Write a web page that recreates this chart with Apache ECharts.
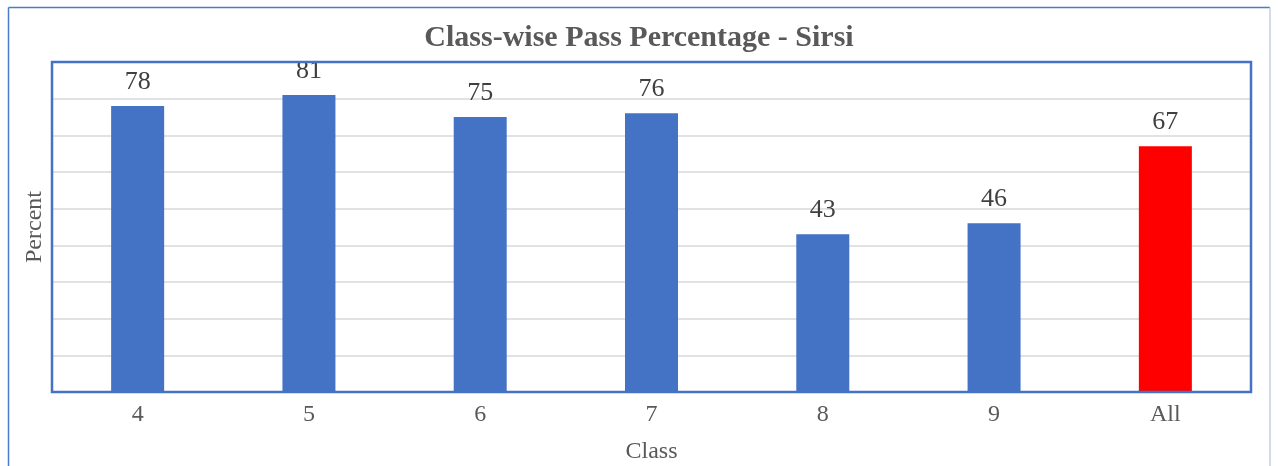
<!DOCTYPE html>
<html>
<head>
    <meta charset="utf-8">
    <title>Class-wise Pass Percentage</title>
    <script src="https://cdn.jsdelivr.net/npm/echarts@6/dist/echarts.min.js"></script>
    <style>
        html, body {
            margin: 0;
            padding: 0;
            background: #fff;
        }
        #main {
            width: 1278px;
            height: 466px;
        }
    </style>
</head>
<body>
<div id="main"></div>

<script type="text/javascript">
    var classes = ['4', '5', '6', '7', '8', '9', 'All'];
    var passPercent = [78, 81, 75, 76, 43, 46, 67];
    var barColors = ['#4472C4', '#4472C4', '#4472C4', '#4472C4', '#4472C4', '#4472C4', '#FF0000'];

    var serif = '"Liberation Serif", "Times New Roman", serif';

    var myChart = echarts.init(document.getElementById('main'));

    var option = {
        backgroundColor: '#ffffff',
        animation: false,
        title: {
            text: 'Class-wise Pass Percentage - Sirsi',
            left: 'center',
            top: 23,
            padding: 0,
            textStyle: {
                fontFamily: serif,
                fontSize: 30,
                fontWeight: 'bold',
                color: '#595959'
            }
        },
        graphic: [
            // outer frame
            {type: 'line', shape: {x1: 8.5, y1: 7.5, x2: 1270, y2: 7.5}, style: {stroke: '#4a7cc8', lineWidth: 1.5}},
            {type: 'line', shape: {x1: 8.5, y1: 7.5, x2: 8.5, y2: 466}, style: {stroke: '#4a7cc8', lineWidth: 1.5}},
            {type: 'line', shape: {x1: 1270, y1: 7.5, x2: 1270, y2: 466}, style: {stroke: '#c3d1e6', lineWidth: 1.5}},
            // plot area frame, drawn above the split lines
            {type: 'rect', z: 100, shape: {x: 52, y: 62, width: 1199, height: 330},
             style: {fill: null, stroke: '#4472C4', lineWidth: 2.5}}
        ],
        grid: {
            left: 52,
            right: 27,
            top: 62,
            bottom: 74,
            containLabel: false,
            outerBoundsMode: 'none'
        },
        xAxis: {
            type: 'category',
            data: classes,
            name: 'Class',
            nameLocation: 'middle',
            nameGap: 48,
            nameTextStyle: {
                fontFamily: serif,
                fontSize: 24,
                color: '#595959'
            },
            axisLine: {show: false},
            axisTick: {show: false},
            axisLabel: {
                margin: 11,
                fontFamily: serif,
                fontSize: 24,
                color: '#595959'
            }
        },
        yAxis: {
            type: 'value',
            min: 0,
            max: 90,
            interval: 10,
            name: 'Percent',
            nameLocation: 'middle',
            nameGap: 5,
            nameTextStyle: {
                fontFamily: serif,
                fontSize: 24,
                color: '#595959'
            },
            axisLine: {show: false},
            axisTick: {show: false},
            axisLabel: {show: false},
            splitLine: {
                lineStyle: {color: '#d9d9d9', width: 1.5}
            }
        },
        series: [
            {
                type: 'bar',
                barWidth: 53,
                data: passPercent.map(function (v, i) {
                    return {value: v, itemStyle: {color: barColors[i]}};
                }),
                label: {
                    show: true,
                    position: 'top',
                    distance: 11,
                    fontFamily: serif,
                    fontSize: 26,
                    color: '#404040'
                }
            }
        ]
    };

    myChart.setOption(option);
</script>
</body>
</html>
